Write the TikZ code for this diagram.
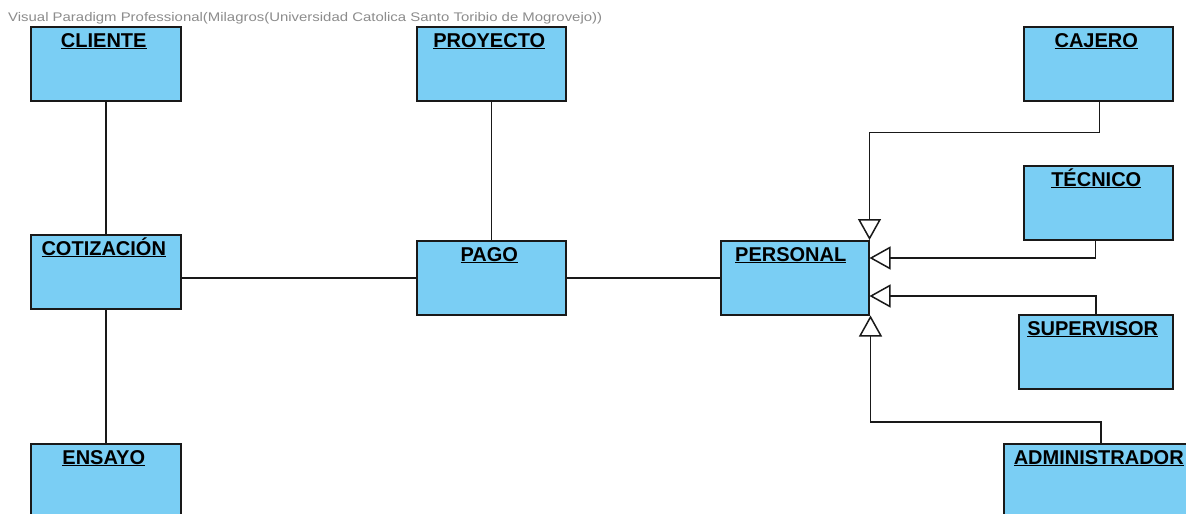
\documentclass[tikz,border=0pt]{standalone}
\usepackage{fontspec}
\usepackage{graphicx}
\setmainfont{Liberation Sans}
\usetikzlibrary{arrows.meta}
\definecolor{vpblue}{RGB}{122,206,244}
\definecolor{vpgray}{RGB}{140,140,140}
\begin{document}
\begin{tikzpicture}[x=1pt,y=-1pt,
  cls/.style={draw=black!90, line width=1.5pt, fill=vpblue, anchor=north west, inner sep=0pt, minimum height=74pt},
  ttl/.style={anchor=base, inner sep=0pt, font=\fontsize{20pt}{24pt}\selectfont\bfseries},
  conn/.style={draw=black!90, line width=1.5pt},
  gen/.style={conn, -{Triangle[open, length=21pt, width=23pt, fill=white]}},
]
\clip (0,0) rectangle (1186,514);
\fill[white] (0,0) rectangle (1186,514);

\node[anchor=west, inner sep=0pt, text=vpgray, font=\fontsize{12.5pt}{14pt}\selectfont] (wm) at (8,18)
  {\resizebox{594pt}{\height}{Visual Paradigm Professional(Milagros(Universidad Catolica Santo Toribio de Mogrovejo))}};

\node[cls, minimum width=150pt] (cliente) at (30,26) {};
\node[cls, minimum width=149pt] (proyecto) at (416,26) {};
\node[cls, minimum width=149pt] (cajero) at (1023,26) {};
\node[cls, minimum width=149pt] (tecnico) at (1023,165) {};
\node[cls, minimum width=150pt] (cotizacion) at (30,234) {};
\node[cls, minimum width=149pt] (pago) at (416,240) {};
\node[cls, minimum width=148pt] (personal) at (720,240) {};
\node[cls, minimum width=154pt] (supervisor) at (1018,314) {};
\node[cls, minimum width=150pt] (ensayo) at (30,443) {};
\node[cls, minimum width=194pt] (admin) at (1003,443) {};

\node[ttl] (tcliente) at ([xshift=-2pt,yshift=-21pt]cliente.north) {\underline{CLIENTE}};
\node[ttl] (tproyecto) at ([xshift=-2pt,yshift=-21pt]proyecto.north) {\underline{PROYECTO}};
\node[ttl] (tcajero) at ([xshift=-2pt,yshift=-21pt]cajero.north) {\underline{CAJERO}};
\node[ttl] (ttecnico) at ([xshift=-2pt,yshift=-21pt]tecnico.north) {\underline{TÉCNICO}};
\node[ttl] (tcotizacion) at ([xshift=-2pt,yshift=-21pt]cotizacion.north) {\underline{COTIZACIÓN}};
\node[ttl] (tpago) at ([xshift=-2pt,yshift=-21pt]pago.north) {\underline{PAGO}};
\node[ttl] (tpersonal) at ([xshift=-4pt,yshift=-21pt]personal.north) {\underline{PERSONAL}};
\node[ttl] (tsupervisor) at ([xshift=-3pt,yshift=-21pt]supervisor.north) {\underline{SUPERVISOR}};
\node[ttl] (tensayo) at ([xshift=-2pt,yshift=-21pt]ensayo.north) {\underline{ENSAYO}};
\node[ttl] (tadmin) at ([xshift=-2pt,yshift=-21pt]admin.north) {\underline{ADMINISTRADOR}};

% associations
\draw[conn] (cliente.south) -- (cotizacion.north);
\draw[conn] (cotizacion.south) -- (ensayo.north);
\draw[conn] (proyecto.south) -- (pago.north);
\draw[conn] (cotizacion.east |- pago.west) -- (pago.west);
\draw[conn] (pago.east) -- (personal.west);

% generalizations
\draw[gen] ([xshift=1pt]cajero.south) -- ++(0,31) -| (personal.north east);
\draw[gen] ([xshift=-3pt]tecnico.south) |- ([yshift=-18pt]personal.north east);
\draw[gen] (supervisor.north) |- ([yshift=-56pt]personal.north east);
\draw[gen] (admin.north) -- ++(0,-21) -| ([xshift=1pt]personal.south east);
\end{tikzpicture}
\end{document}
